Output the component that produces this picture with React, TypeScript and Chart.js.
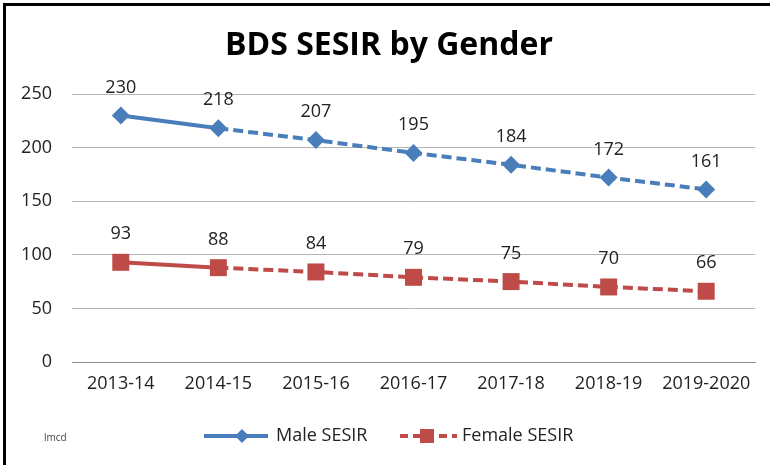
import React, { useEffect, useRef } from "react";
import { Chart, registerables } from "chart.js";

Chart.register(...registerables);

const categories = ["2013-14", "2014-15", "2015-16", "2016-17", "2017-18", "2018-19", "2019-2020"];
const maleValues = [230, 218, 207, 195, 184, 172, 161];
const femaleValues = [93, 88, 84, 79, 75, 70, 66];
const seriesNames = ["Male SESIR", "Female SESIR"];
const titleText = "BDS SESIR by Gender";
const noteText = "lmcd";

const BLUE = "#4A7EBB";
const RED = "#BE4B48";
const FONT = "'Open Sans', 'DejaVu Sans', sans-serif";

const overlayPlugin = {
  id: "overlay",
  afterDatasetsDraw(chart: any) {
    const ctx = chart.ctx;
    ctx.save();
    // data labels
    ctx.font = `18px ${FONT}`;
    ctx.fillStyle = "#222";
    ctx.textAlign = "center";
    ctx.textBaseline = "middle";
    chart.data.datasets.forEach((ds: any, i: number) => {
      const meta = chart.getDatasetMeta(i);
      meta.data.forEach((pt: any, j: number) => {
        ctx.fillText(String(ds.data[j]), pt.x, pt.y - 28);
      });
    });
    // title
    ctx.font = `bold 32px ${FONT}`;
    ctx.fillStyle = "#000";
    ctx.fillText(titleText, 389, 46);
    // legend
    const ly = 436;
    ctx.textAlign = "left";
    ctx.font = `18px ${FONT}`;
    // male
    ctx.strokeStyle = BLUE;
    ctx.lineWidth = 4;
    ctx.setLineDash([]);
    ctx.beginPath();
    ctx.moveTo(204, ly);
    ctx.lineTo(268, ly);
    ctx.stroke();
    ctx.fillStyle = BLUE;
    ctx.beginPath();
    ctx.moveTo(242, ly - 7);
    ctx.lineTo(249, ly);
    ctx.lineTo(242, ly + 7);
    ctx.lineTo(235, ly);
    ctx.closePath();
    ctx.fill();
    ctx.fillStyle = "#222";
    ctx.fillText(seriesNames[0], 276, ly);
    // female
    ctx.strokeStyle = RED;
    ctx.setLineDash([8, 5]);
    ctx.beginPath();
    ctx.moveTo(400, ly);
    ctx.lineTo(457, ly);
    ctx.stroke();
    ctx.setLineDash([]);
    ctx.fillStyle = RED;
    ctx.fillRect(420, ly - 7, 14, 14);
    ctx.fillStyle = "#222";
    ctx.fillText(seriesNames[1], 462, ly);
    // note
    ctx.font = `10px ${FONT}`;
    ctx.fillStyle = "#444";
    ctx.fillText(noteText, 44, 438);
    ctx.restore();
  },
};

const dashAfterFirst = (ctx: any) => (ctx.p0DataIndex >= 1 ? [10, 5] : undefined);

export default function App() {
  const ref = useRef<HTMLCanvasElement>(null);
  useEffect(() => {
    if (!ref.current) return;
    const chart = new Chart(ref.current, {
      type: "line",
      data: {
        labels: categories,
        datasets: [
          {
            label: seriesNames[0],
            data: maleValues,
            borderColor: BLUE,
            backgroundColor: BLUE,
            borderWidth: 4,
            pointStyle: "rectRot",
            pointRadius: 9,
            pointBorderWidth: 0,
            segment: { borderDash: dashAfterFirst },
          },
          {
            label: seriesNames[1],
            data: femaleValues,
            borderColor: RED,
            backgroundColor: RED,
            borderWidth: 4,
            pointStyle: "rect",
            pointRadius: 12,
            pointBorderWidth: 0,
            segment: { borderDash: dashAfterFirst },
          },
        ],
      },
      options: {
        responsive: false,
        animation: false,
        layout: { padding: { left: 0, right: 15, top: 94, bottom: 63 } },
        plugins: {
          legend: { display: false },
          title: { display: false },
          tooltip: { enabled: false },
        },
        scales: {
          x: {
            offset: true,
            grid: { display: false, drawTicks: false },
            border: { display: true, color: "#8c8c8c", width: 1 },
            ticks: { color: "#222", font: { family: FONT, size: 18 }, padding: 11, maxRotation: 0 },
            afterFit: (s: any) => { s.height = 40; },
          },
          y: {
            min: 0,
            max: 250,
            ticks: { stepSize: 50, color: "#222", font: { family: FONT, size: 18 }, padding: 20 },
            grid: { color: "#b4b4b4", lineWidth: 1, drawTicks: false },
            border: { display: false },
            afterFit: (s: any) => { s.width = 72; },
          },
        },
      },
      plugins: [overlayPlugin],
    } as any);
    return () => chart.destroy();
  }, []);
  return (
    <div style={{ position: "fixed", left: 0, top: 0, width: 770, height: 465, background: "#fff", overflow: "hidden" }}>
      <canvas ref={ref} width={770} height={465} style={{ position: "absolute", left: 0, top: 0 }} />
      <div style={{ position: "absolute", left: 3, top: 3, width: 780, height: 480, borderTop: "3px solid #000", borderLeft: "3px solid #000", boxSizing: "border-box" }} />
    </div>
  );
}
